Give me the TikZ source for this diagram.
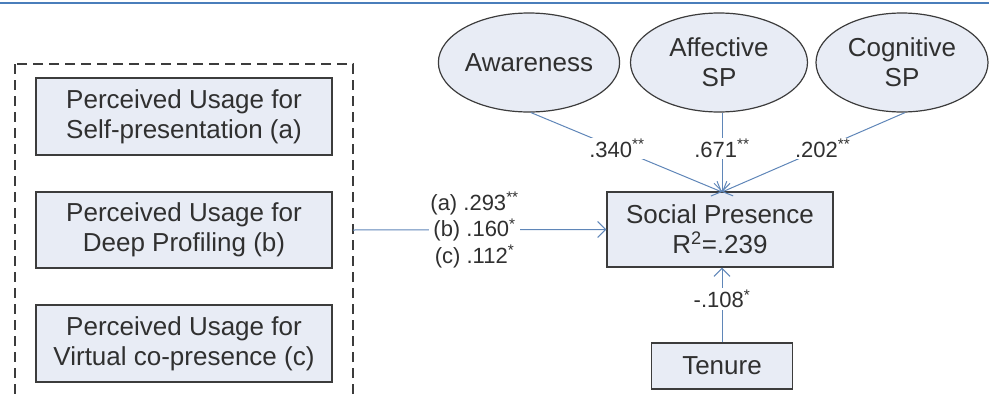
\documentclass[tikz,border=0pt]{standalone}
\usepackage{fontspec}
\setmainfont{Liberation Sans}
\usetikzlibrary{arrows.meta,shapes.geometric}
\definecolor{boxfill}{HTML}{E8ECF5}
\definecolor{boxline}{HTML}{3C3C3C}
\definecolor{arrowc}{HTML}{5F86B8}
\definecolor{topline}{HTML}{4A7EBB}
\definecolor{txt}{HTML}{303030}
\begin{document}
\begin{tikzpicture}[x=1pt,y=-1pt,
  every node/.style={text=txt},
  boxnode/.style={draw=boxline,line width=1.4pt,fill=boxfill,rectangle,inner sep=0pt,
    font=\fontsize{26}{30}\selectfont,align=center},
  ellnode/.style={draw=boxline,line width=1.2pt,fill=boxfill,ellipse,inner sep=0pt,
    font=\fontsize{26}{30}\selectfont,align=center},
  conn/.style={draw=arrowc,line width=1pt},
  arr/.style={conn,-{Straight Barb[length=8pt,width=16pt,line width=1pt]}},
  lbl/.style={fill=white,inner sep=1.5pt,font=\fontsize{22}{26.5}\selectfont,align=center}]
\useasboundingbox (0,0) rectangle (989,394);
\clip (0,0) rectangle (989,394);
\draw[topline,line width=2pt] (0,3) -- (989,3);
% dashed group box
\draw[boxline,line width=1.4pt,dash pattern=on 10pt off 6pt] (15,64) rectangle (353,420);
\coordinate (grp) at (353,230);
% left boxes
\node[boxnode,minimum width=296pt,minimum height=77pt] (a) at (184,116.5) {Perceived Usage for\\Self-presentation (a)};
\node[boxnode,minimum width=296pt,minimum height=76pt] (b) at (184,230) {Perceived Usage for\\Deep Profiling (b)};
\node[boxnode,minimum width=296pt,minimum height=77pt] (c) at (184,343.5) {Perceived Usage for\\Virtual co-presence (c)};
% social presence
\node[boxnode,minimum width=226pt,minimum height=75pt] (sp) at (720,229.5) {Social Presence\\R\textsuperscript{2}=.239};
\node[boxnode,minimum width=141pt,minimum height=46pt] (ten) at (722,366) {Tenure};
% ellipses
\node[ellnode,minimum width=176pt,minimum height=99pt] (aw) at (529,62.5) {Awareness};
\node[ellnode,minimum width=177pt,minimum height=99pt] (af) at (719,62.5) {Affective\\SP};
\node[ellnode,minimum width=172pt,minimum height=99pt] (cg) at (902,62.5) {Cognitive\\SP};
\coordinate (tgt) at (722,192);
% connectors
\draw[arr] (aw.south) ++(2,0) coordinate (aws) -- (tgt) node[lbl,pos=0.45] {.340\textsuperscript{**}};
\draw[arr] (af.south) ++(3,0) coordinate (afs) -- (tgt) node[lbl,pos=0.45] {.671\textsuperscript{**}};
\draw[arr] (cg.south) ++(3,0) coordinate (cgs) -- (tgt) node[lbl,pos=0.45] {.202\textsuperscript{**}};
\draw[arr] (grp) -- (sp.west) node[lbl,pos=0.48] {(a) .293\textsuperscript{**}\\(b) .160\textsuperscript{*}\\(c) .112\textsuperscript{*}};
\draw[arr] (ten.north) -- (ten.north |- sp.south) node[lbl,pos=0.58] {-.108\textsuperscript{*}};
\end{tikzpicture}
\end{document}
